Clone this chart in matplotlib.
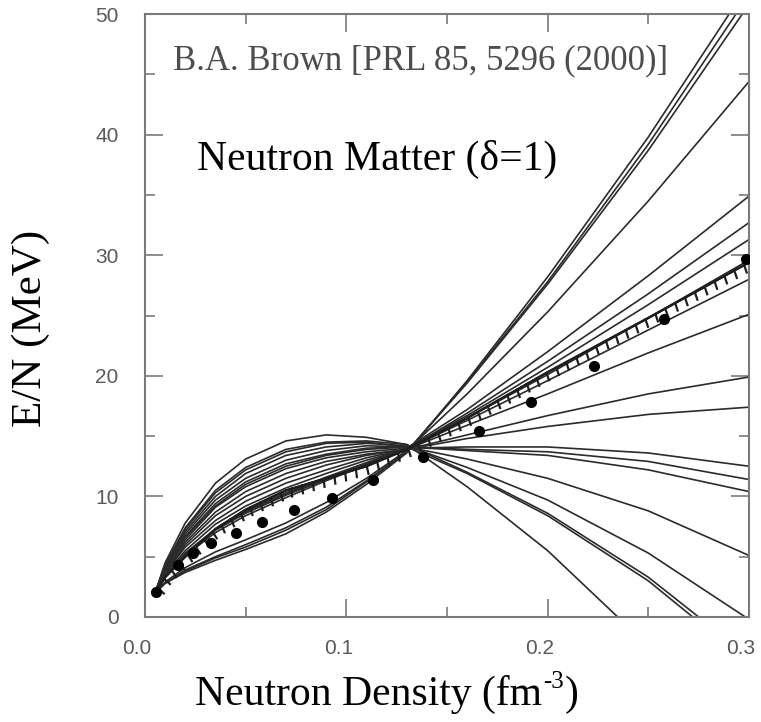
import matplotlib
matplotlib.use('Agg')
import matplotlib.pyplot as plt
import matplotlib.patheffects as pe
import matplotlib.transforms as mtransforms
from matplotlib.ticker import MultipleLocator, FormatStrFormatter

plt.rcParams['font.family'] = ['Liberation Sans', 'DejaVu Sans']

# neutron density grid (fm^-3)
x_grid = [0.005, 0.01, 0.02, 0.035, 0.05, 0.07, 0.09, 0.11, 0.13, 0.16, 0.20, 0.25, 0.30]

# Skyrme E/N curves (MeV)
eos_01 = [2.0, 2.8, 3.7, 4.7, 5.6, 6.9, 8.7, 11.0, 13.6, 19.6, 28.2, 39.8, 52.5]
eos_02 = [2.0, 2.8, 3.8, 4.9, 5.8, 7.2, 8.9, 11.2, 13.7, 19.5, 27.8, 39.2, 51.6]
eos_03 = [2.0, 2.8, 3.9, 5.0, 6.0, 7.4, 9.1, 11.3, 13.7, 19.4, 27.6, 38.7, 50.8]
eos_04 = [2.0, 2.9, 4.1, 5.4, 6.4, 7.8, 9.5, 11.5, 13.8, 18.5, 25.3, 34.5, 44.4]
eos_05 = [2.0, 3.3, 5.1, 7.0, 8.4, 9.9, 11.3, 12.6, 14.0, 17.2, 22.0, 28.3, 34.9]
eos_06 = [2.0, 3.4, 5.2, 7.2, 8.6, 10.1, 11.4, 12.7, 13.9, 16.9, 21.2, 26.8, 32.7]
eos_07 = [2.0, 3.4, 5.3, 7.3, 8.8, 10.3, 11.6, 12.8, 14.0, 16.7, 20.7, 25.9, 31.3]
eos_08 = [2.0, 3.4, 5.2, 7.3, 8.7, 10.2, 11.5, 12.7, 13.9, 16.5, 20.1, 24.8, 29.6]
eos_09 = [2.0, 3.5, 5.5, 7.7, 9.2, 10.7, 11.9, 13.0, 13.9, 16.3, 19.6, 23.8, 28.0]
eos_10 = [2.0, 3.6, 5.8, 8.0, 9.6, 11.1, 12.2, 13.2, 13.9, 15.9, 18.5, 21.9, 25.1]
eos_11 = [2.0, 3.7, 6.0, 8.4, 10.0, 11.5, 12.6, 13.4, 13.9, 15.1, 16.7, 18.5, 19.9]
eos_12 = [2.0, 3.8, 6.2, 8.7, 10.4, 11.9, 12.9, 13.5, 13.9, 14.8, 15.8, 16.8, 17.4]
eos_13 = [2.0, 3.9, 6.4, 9.1, 10.8, 12.3, 13.2, 13.7, 14.0, 14.1, 14.1, 13.6, 12.5]
eos_14 = [2.0, 4.0, 6.6, 9.2, 11.0, 12.5, 13.4, 13.9, 14.1, 13.9, 13.7, 12.9, 11.4]
eos_15 = [2.0, 4.0, 6.7, 9.4, 11.2, 12.7, 13.5, 14.0, 14.1, 13.8, 13.4, 12.2, 10.4]
eos_16 = [2.0, 4.1, 6.9, 9.7, 11.5, 13.0, 13.8, 14.2, 14.1, 13.1, 11.5, 8.8, 5.1]
eos_17 = [2.0, 4.2, 7.1, 10.0, 11.9, 13.4, 14.1, 14.4, 14.2, 12.4, 9.7, 5.3, -0.2]
eos_18 = [2.0, 4.3, 7.3, 10.3, 12.2, 13.7, 14.4, 14.5, 14.1, 11.9, 8.4, 3.0, -3.8]
eos_19 = [2.0, 4.3, 7.4, 10.5, 12.4, 13.9, 14.5, 14.6, 14.3, 12.0, 8.6, 3.3, -3.3]
eos_20 = [2.0, 4.5, 7.8, 11.1, 13.1, 14.6, 15.1, 14.9, 14.3, 10.8, 5.5, -2.4, -12.0]

# hatched microscopic curve
fp_y = [2.0, 3.3, 5.0, 7.3, 8.9, 10.5, 11.5, 12.5, 13.9, 16.5, 20.3, 24.8, 29.4]

# filled dots
dot_x = [0.0055, 0.0164, 0.024, 0.033, 0.045, 0.058, 0.074, 0.093, 0.113, 0.138, 0.166, 0.1915, 0.223, 0.258, 0.2985]
dot_y = [2.1, 4.3, 5.3, 6.1, 7.0, 7.9, 8.9, 9.9, 11.4, 13.3, 15.4, 17.8, 20.8, 24.7, 29.7]

curves = [eos_01, eos_02, eos_03, eos_04, eos_05, eos_06, eos_07, eos_08, eos_09, eos_10,
          eos_11, eos_12, eos_13, eos_14, eos_15, eos_16, eos_17, eos_18, eos_19, eos_20]

fig = plt.figure(figsize=(7.61, 7.22), dpi=100)
ax = fig.add_axes([145/761., 1-617/722., (749-145)/761., (617-14)/722.])

for ys in curves:
    ax.plot(x_grid, ys, color='#2b2b2b', lw=1.2, solid_joinstyle='round')

ax.plot(x_grid, fp_y, color='#1e1e1e', lw=1.6,
        path_effects=[pe.withTickedStroke(angle=-100, spacing=8, length=0.7), pe.Normal()])
ax.plot(dot_x, dot_y, 'o', color='k', ms=7, zorder=5)

ax.set_xlim(0, 0.3)
ax.set_ylim(0, 50)
ax.xaxis.set_major_locator(MultipleLocator(0.1))
ax.xaxis.set_minor_locator(MultipleLocator(0.05))
ax.yaxis.set_major_locator(MultipleLocator(10))
ax.yaxis.set_minor_locator(MultipleLocator(5))
ax.xaxis.set_major_formatter(FormatStrFormatter('%.1f'))

ax.tick_params(which='both', direction='in', top=True, right=True,
               color='#7a7a7a', labelcolor='#5a5a5a', width=1.2, labelsize=15)
ax.tick_params(which='major', length=13)
ax.tick_params(which='minor', length=7)
ax.tick_params(axis='y', pad=19)
ax.tick_params(axis='x', pad=16)
for sp in ax.spines.values():
    sp.set_color('#7a7a7a')
    sp.set_linewidth(1.5)

# x tick labels sit a bit left of their ticks in the original
shift = mtransforms.ScaledTranslation(-8/100., 0, fig.dpi_scale_trans)
for lab in ax.get_xticklabels():
    lab.set_transform(lab.get_transform() + shift)

ax.text(0.0139, 45.4, 'B.A. Brown [PRL 85, 5296 (2000)]', family='Liberation Serif',
        size=25, color='#4d4d4d', va='baseline')
ax.text(0.0259, 37.1, 'Neutron Matter (\u03b4=1)', family='Liberation Serif',
        size=30, color='k', va='baseline')

fig.text(31/761., 1-328/722., 'E/N (MeV)', rotation=90, ha='center', va='center',
         family='Liberation Serif', size=31)

# x label with a small raised "-3", built from three pieces (pixel coords)
pix = mtransforms.IdentityTransform()
r = fig.canvas.get_renderer()
t1 = fig.text(195, 722-705, 'Neutron Density (fm', transform=pix, va='baseline',
              family='Liberation Serif', size=30)
bb1 = t1.get_window_extent(r)
t2 = fig.text(bb1.x1 + 1, 722-705+17, '-3', transform=pix, va='baseline',
              family='Liberation Serif', size=18)
bb2 = t2.get_window_extent(r)
fig.text(bb2.x1 + 1, 722-705, ')', transform=pix, va='baseline',
         family='Liberation Serif', size=30)

fig.savefig('out.png', dpi=100)
